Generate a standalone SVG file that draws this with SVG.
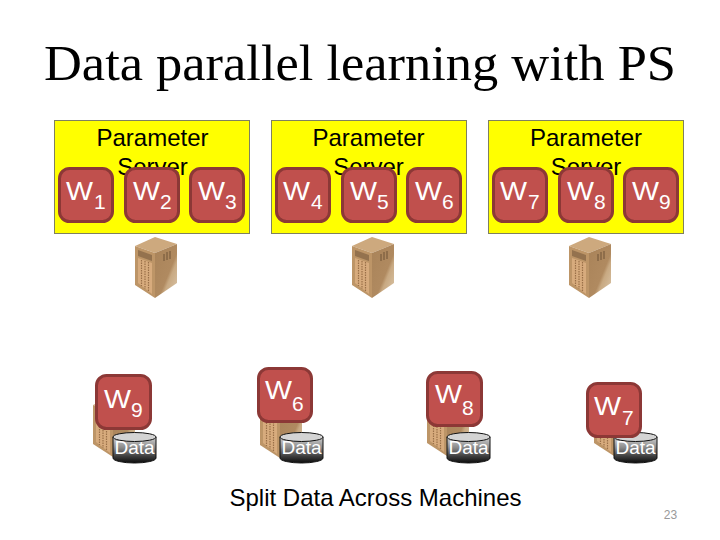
<svg xmlns="http://www.w3.org/2000/svg" width="720" height="540" viewBox="0 0 720 540">
<style>
.ps{fill:#ffff00;stroke:#7f8060;stroke-width:1}
.pst{font:24px "Liberation Sans",Arial,sans-serif;fill:#000;text-anchor:middle}
.w rect{fill:#c0504d;stroke:#8c3836;stroke-width:3}
.w text{font-family:"Liberation Sans",Arial,sans-serif;fill:#fff}
.wb{font-size:25px}
.ws{font-size:21px}
.d{font:19px "Liberation Sans",Arial,sans-serif;fill:#fff;text-anchor:middle}
</style>
<defs>
<linearGradient id="cyl" x1="0" y1="0" x2="0" y2="1"><stop offset="0" stop-color="#d0d0d0"/><stop offset=".4" stop-color="#8c8c8c"/><stop offset=".75" stop-color="#3c3c3c"/><stop offset="1" stop-color="#0c0c0c"/></linearGradient>
<linearGradient id="sh" x1="0" y1="0" x2="1" y2="1"><stop offset="0" stop-color="#a98359"/><stop offset=".58" stop-color="#b08a60"/><stop offset=".66" stop-color="#c8a982"/><stop offset="1" stop-color="#dcc8ac"/></linearGradient>
<symbol id="srv" overflow="visible">
<path d="M2 10L22 1L44 8L22 17Z" fill="#cda97e"/>
<path d="M2 10L22 17V62L2 49Z" fill="#bd9567"/>
<path d="M22 17L44 8V47L22 62Z" fill="url(#sh)"/>
<path d="M5 14L19 19V25L5 20Z" fill="#94724e"/>
<path d="M5 22L19 27V58L5 47Z" fill="#d7ab7d"/>
<path d="M8.500 24V50M12 25V53M15.500 26V55" stroke="#9a7048" stroke-width="1.200" stroke-dasharray="1.500 1"/>
<path d="M31 18V25M34 16V24M37 15V23" stroke="#6f5236" stroke-width="1"/>
</symbol>
<symbol id="cy" overflow="visible">
<path d="M0 5V26A21.500 5 0 0 0 43 26V5Z" fill="url(#cyl)" stroke="#111"/>
<ellipse cx="21.500" cy="5" rx="21.500" ry="4.500" fill="#d4d4d4" stroke="#111"/>
</symbol>
</defs>
<rect width="720" height="540" fill="#fff"/>
<text x="44" y="80" font-family="Liberation Serif,serif" font-size="50" textLength="632" lengthAdjust="spacingAndGlyphs" fill="#000">Data parallel learning with PS</text>

<g id="ps1"><rect class="ps" x="54.500" y="120.500" width="195" height="113"/><text class="pst" x="152.500" y="146">Parameter</text><text class="pst" x="152.500" y="175">Server</text></g>
<g id="ps2"><rect class="ps" x="271.500" y="120.500" width="195" height="113"/><text class="pst" x="368.500" y="146">Parameter</text><text class="pst" x="368.500" y="175">Server</text></g>
<g id="ps3"><rect class="ps" x="488.500" y="120.500" width="195" height="113"/><text class="pst" x="586" y="146">Parameter</text><text class="pst" x="586" y="175">Server</text></g>

<g id="srv1"><use href="#srv" x="133" y="236"/></g>
<g id="srv2"><use href="#srv" x="350" y="236"/></g>
<g id="srv3"><use href="#srv" x="567" y="236"/></g>

<g id="w1" class="w"><rect x="59.500" y="168.500" width="53" height="53" rx="10"/><text class="wb" x="66" y="200" textLength="27" lengthAdjust="spacingAndGlyphs">W</text><text class="ws" x="94" y="209">1</text></g>
<g id="w2" class="w"><rect x="125.500" y="168.500" width="53" height="53" rx="10"/><text class="wb" x="133" y="200" textLength="27" lengthAdjust="spacingAndGlyphs">W</text><text class="ws" x="160" y="209">2</text></g>
<g id="w3" class="w"><rect x="190.500" y="168.500" width="53" height="53" rx="10"/><text class="wb" x="198" y="200" textLength="27" lengthAdjust="spacingAndGlyphs">W</text><text class="ws" x="225" y="209">3</text></g>
<g id="w4" class="w"><rect x="276.500" y="168.500" width="53" height="53" rx="10"/><text class="wb" x="283" y="200" textLength="27" lengthAdjust="spacingAndGlyphs">W</text><text class="ws" x="311" y="209">4</text></g>
<g id="w5" class="w"><rect x="342.500" y="168.500" width="53" height="53" rx="10"/><text class="wb" x="350" y="200" textLength="27" lengthAdjust="spacingAndGlyphs">W</text><text class="ws" x="377" y="209">5</text></g>
<g id="w6" class="w"><rect x="407.500" y="168.500" width="53" height="53" rx="10"/><text class="wb" x="415" y="200" textLength="27" lengthAdjust="spacingAndGlyphs">W</text><text class="ws" x="442" y="209">6</text></g>
<g id="w7" class="w"><rect x="493.500" y="168.500" width="53" height="53" rx="10"/><text class="wb" x="500" y="200" textLength="27" lengthAdjust="spacingAndGlyphs">W</text><text class="ws" x="528" y="209">7</text></g>
<g id="w8" class="w"><rect x="559.500" y="168.500" width="53" height="53" rx="10"/><text class="wb" x="567" y="200" textLength="27" lengthAdjust="spacingAndGlyphs">W</text><text class="ws" x="594" y="209">8</text></g>
<g id="w9" class="w"><rect x="624.500" y="168.500" width="53" height="53" rx="10"/><text class="wb" x="632" y="200" textLength="27" lengthAdjust="spacingAndGlyphs">W</text><text class="ws" x="659" y="209">9</text></g>

<g id="m1"><use href="#srv" x="91" y="395"/><use href="#cy" x="113" y="432"/><text class="d" x="134.500" y="454">Data</text><g class="w"><rect x="96.500" y="375.500" width="54" height="53" rx="10"/><text class="wb" x="104" y="408" textLength="27" lengthAdjust="spacingAndGlyphs">W</text><text class="ws" x="131" y="417">9</text></g></g>
<g id="m2"><use href="#srv" x="258" y="396"/><use href="#cy" x="280" y="432"/><text class="d" x="301.500" y="454">Data</text><g class="w"><rect x="258.500" y="368.500" width="53" height="53" rx="10"/><text class="wb" x="265" y="399" textLength="27" lengthAdjust="spacingAndGlyphs">W</text><text class="ws" x="292" y="411">6</text></g></g>
<g id="m3"><use href="#srv" x="425" y="394"/><use href="#cy" x="447" y="432"/><text class="d" x="468.500" y="454">Data</text><g class="w"><rect x="427.500" y="372.500" width="54" height="53" rx="10"/><text class="wb" x="435" y="403" textLength="27" lengthAdjust="spacingAndGlyphs">W</text><text class="ws" x="462" y="415">8</text></g></g>
<g id="m4"><use href="#srv" x="592" y="394"/><use href="#cy" x="614" y="432"/><text class="d" x="635.500" y="454">Data</text><g class="w"><rect x="587.500" y="383.500" width="53" height="53" rx="10"/><text class="wb" x="594" y="415" textLength="27" lengthAdjust="spacingAndGlyphs">W</text><text class="ws" x="622" y="425">7</text></g></g>

<text x="375.500" y="506" font-family="Liberation Sans,Arial,sans-serif" font-size="24" text-anchor="middle" fill="#000">Split Data Across Machines</text>
<text x="670.500" y="519" font-family="Liberation Sans,Arial,sans-serif" font-size="12" text-anchor="middle" fill="#999">23</text>
</svg>
